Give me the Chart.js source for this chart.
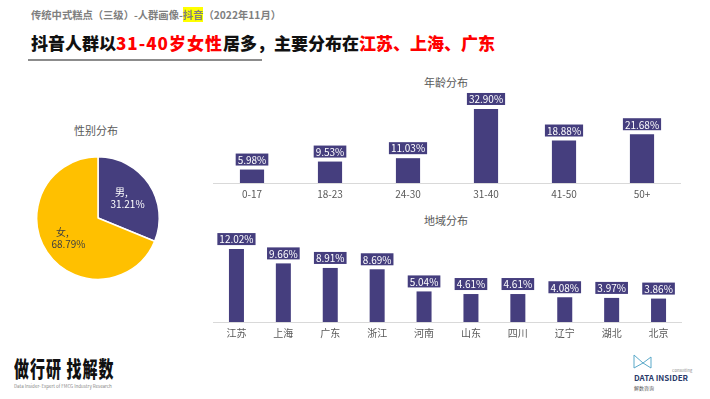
<!DOCTYPE html>
<html>
<head>
<meta charset="utf-8">
<script src="https://cdn.jsdelivr.net/npm/chart.js@4/dist/chart.umd.min.js"></script>
<style>
  body { margin: 0; width: 710px; height: 399px; background: #fff; position: relative; overflow: hidden;
         font-family: "Noto Sans CJK SC", "Noto Sans", sans-serif; }
  .abs { position: absolute; white-space: nowrap; }
  canvas { position: absolute; }
</style>
</head>
<body>
<div class="abs" style="left:31px;top:7px;font-size:10.3px;font-weight:bold;color:#7f7f7f;">传统中式糕点（三级）-人群画像-<span style="background:#ffff00;">抖音</span>（2022年11月）</div>
<div class="abs" style="left:31px;top:30px;font-size:17px;font-weight:900;color:#111;">抖音人群以<span style="color:#f00;letter-spacing:1px;">31-40岁女性</span>居多，主要分布在<span style="color:#f00;">江苏、上海、广东</span></div>
<div class="abs" style="left:28px;top:59px;width:234px;height:2px;background:#8c8c8c;"></div>

<div class="abs" style="left:74px;top:122px;font-size:11px;color:#595959;">性别分布</div>
<div class="abs" style="left:424px;top:74px;font-size:11px;color:#595959;">年龄分布</div>
<div class="abs" style="left:424px;top:212px;font-size:11px;color:#595959;">地域分布</div>

<canvas id="pieChart" width="128" height="128" style="left:34px;top:154px;"></canvas>
<canvas id="ageChart" width="468" height="120" style="left:213px;top:85px;"></canvas>
<canvas id="regionChart" width="469" height="119" style="left:213px;top:225px;"></canvas>

<div class="abs" style="left:14px;top:352px;font-size:15px;font-weight:900;color:#111;letter-spacing:1px;transform:scaleY(1.45);transform-origin:left top;">做行研 找解数</div>
<div class="abs" style="left:14px;top:383px;font-size:4.5px;color:#888;">Data Insider- Expert of FMCG Industry Research</div>
<svg class="abs" style="left:633px;top:354px;" width="20" height="16" viewBox="0 0 20 16">
  <path d="M1 1 L10 9 L18 3 L18 14 L10 9 L1 14 Z" fill="none" stroke="#5aa9c9" stroke-width="1"/>
</svg>
<div class="abs" style="left:672px;top:367px;font-size:4px;color:#888;">Consulting</div>
<div class="abs" style="left:634px;top:372px;font-size:8px;font-weight:bold;color:#2a3a6a;">DATA INSIDER</div>
<div class="abs" style="left:634px;top:384px;font-size:5px;color:#555;">解数咨询</div>

<script>
const genderLabels = ["男", "女"];
const genderValues = [31.21, 68.79];

const ageLabels = ["0-17", "18-23", "24-30", "31-40", "41-50", "50+"];
const ageValues = [5.98, 9.53, 11.03, 32.90, 18.88, 21.68];

const regionLabels = ["江苏", "上海", "广东", "浙江", "河南", "山东", "四川", "辽宁", "湖北", "北京"];
const regionValues = [12.02, 9.66, 8.91, 8.69, 5.04, 4.61, 4.61, 4.08, 3.97, 3.86];

const NAVY = "#453e7e";
const FONT = '"Noto Sans CJK SC", "Noto Sans", sans-serif';

// value boxes above bars
const boxLabels = {
    id: "boxLabels",
    afterDatasetsDraw(chart) {
        const ctx = chart.ctx;
        const meta = chart.getDatasetMeta(0);
        const values = chart.data.datasets[0].data;
        ctx.save();
        ctx.font = "10px " + FONT;
        ctx.textAlign = "center";
        ctx.textBaseline = "middle";
        meta.data.forEach(function (bar, i) {
            const txt = values[i].toFixed(2) + "%";
            const w = ctx.measureText(txt).width + 4;
            const h = 12;
            const y = bar.y - 4 - h;
            ctx.fillStyle = NAVY;
            ctx.fillRect(bar.x - w / 2, y, w, h);
            ctx.fillStyle = "#fff";
            ctx.fillText(txt, bar.x, y + h / 2 + 0.5);
        });
        ctx.restore();
    }
};

function barChart(id, labels, values, maxY, barPct, padTop) {
    new Chart(document.getElementById(id).getContext("2d"), {
        type: "bar",
        data: {
            labels: labels,
            datasets: [{
                data: values,
                backgroundColor: NAVY,
                barPercentage: barPct,
                categoryPercentage: 1
            }]
        },
        options: {
            responsive: false,
            animation: false,
            layout: { padding: { top: padTop, left: 0, right: 0, bottom: 0 } },
            plugins: { legend: { display: false }, tooltip: { enabled: false } },
            scales: {
                x: {
                    grid: { display: false, drawTicks: false },
                    border: { display: true, color: "#d9d9d9", width: 1 },
                    ticks: { color: "#595959", font: { size: 10, family: FONT }, padding: 5 }
                },
                y: { display: false, min: 0, max: maxY }
            }
        },
        plugins: [boxLabels]
    });
}

barChart("ageChart", ageLabels, ageValues, 40, 0.31, 8);
barChart("regionChart", regionLabels, regionValues, 15, 0.32, 6);

// pie with labels inside slices
const pieLabels = {
    id: "pieLabels",
    afterDatasetsDraw(chart) {
        const ctx = chart.ctx;
        const meta = chart.getDatasetMeta(0);
        ctx.save();
        ctx.font = "10px " + FONT;
        ctx.textAlign = "center";
        ctx.textBaseline = "middle";
        meta.data.forEach(function (arc, i) {
            const mid = (arc.startAngle + arc.endAngle) / 2;
            const r = arc.outerRadius * 0.58;
            const x = arc.x + Math.cos(mid) * r;
            const y = arc.y + Math.sin(mid) * r;
            ctx.fillStyle = i === 0 ? "#fff" : "#404040";
            ctx.fillText(genderLabels[i] + ",", x - 6, y - 6);
            ctx.fillText(genderValues[i].toFixed(2) + "%", x, y + 6);
        });
        ctx.restore();
    }
};

new Chart(document.getElementById("pieChart").getContext("2d"), {
    type: "pie",
    data: {
        labels: genderLabels,
        datasets: [{
            data: genderValues,
            backgroundColor: [NAVY, "#ffc000"],
            borderColor: "#fff",
            borderWidth: 1.5
        }]
    },
    options: {
        responsive: false,
        animation: false,
        layout: { padding: 2 },
        plugins: { legend: { display: false }, tooltip: { enabled: false } }
    },
    plugins: [pieLabels]
});
</script>
</body>
</html>
